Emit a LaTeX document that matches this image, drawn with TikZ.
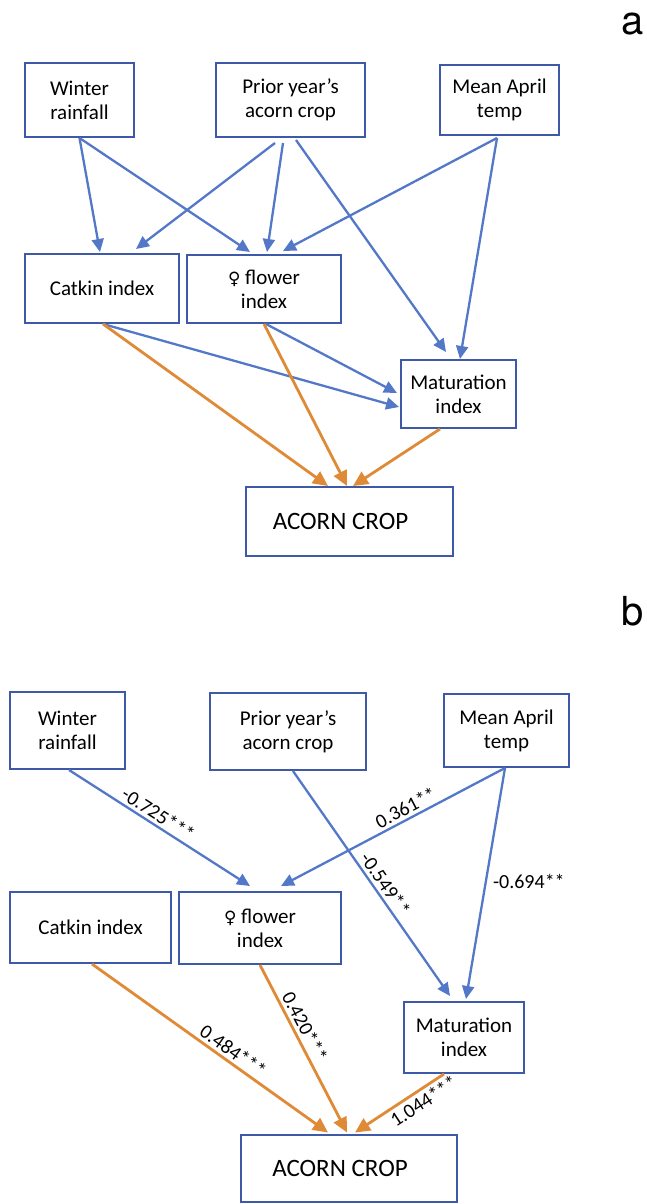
\documentclass[tikz,border=0pt]{standalone}
\usepackage{fontspec}
\setmainfont{Carlito}
\newfontfamily\labfont{TeX Gyre Heros}
\newfontfamily\symfont{DejaVu Sans}
\usetikzlibrary{arrows.meta}
\definecolor{boxblue}{RGB}{61,89,168}
\definecolor{arrblue}{RGB}{84,120,200}
\definecolor{arrorange}{RGB}{222,138,54}

\begin{document}
\begin{tikzpicture}[x=1pt,y=-1pt,
	box/.style={draw=boxblue,line width=2pt,inner sep=0pt,align=center,font=\fontsize{21}{24}\selectfont},
	blu/.style={draw=arrblue,line width=2.3pt,-{Triangle[length=13pt,width=12pt]}},
	orng/.style={draw=arrorange,line width=2.8pt,-{Triangle[length=15pt,width=14pt]}},
	lab/.style={font=\fontsize{20}{20}\selectfont,text=black,inner sep=3pt}]
	\useasboundingbox (0,0) rectangle (646,1204);

	\node[font=\labfont\fontsize{40}{40}\selectfont] (la) at (633,24) {a};
	\node[box,minimum width=109pt,minimum height=74pt] (wa) at (79.5,100) {Winter\\rainfall};
	\node[box,minimum width=149pt,minimum height=74pt] (pa) at (290.5,100) {Prior year’s\\acorn crop};
	\node[box,minimum width=119pt,minimum height=70pt] (mea) at (499.5,100) {Mean April\\temp};
	\node[box,minimum width=154pt,minimum height=69pt] (ca) at (102,288.5) {Catkin index};
	\node[box,minimum width=154pt,minimum height=68pt] (fa) at (264,289) {{\symfont\fontsize{17}{20}\selectfont ♀} flower\\index};
	\node[box,minimum width=115pt,minimum height=68pt] (ma) at (458.5,394) {Maturation\\index};
	\node[box,minimum width=207pt,minimum height=69pt,font=\fontsize{25}{28}\selectfont] (aa) at (349.5,521.5) {ACORN CROP\hspace*{18pt}};

	\draw[blu] (wa.south) -- ([xshift=-2pt,yshift=1pt]ca.north);
	\draw[blu] (wa.south) -- ([xshift=-14pt,yshift=2pt]fa.north);
	\draw[blu] ([xshift=-15.5pt,yshift=-5pt]pa.south) -- ([xshift=34pt,yshift=4pt]ca.north);
	\draw[blu] ([xshift=-7.5pt,yshift=-5pt]pa.south) -- ([xshift=3pt,yshift=2pt]fa.north);
	\draw[blu] ([xshift=5.5pt,yshift=-2pt]pa.south) -- ([xshift=-12.5pt,yshift=7pt]ma.north);
	\draw[blu] ([xshift=-2.5pt,yshift=-2pt]mea.south) -- ([xshift=19pt,yshift=3pt]fa.north);
	\draw[blu] ([xshift=-2.5pt,yshift=-2pt]mea.south) -- ([xshift=1.5pt]ma.north);
	\draw[blu] ([xshift=1pt]ca.south) -- ([xshift=-1pt,yshift=-13pt]ma.west);
	\draw[blu] ([xshift=2pt]fa.south) -- ([xshift=-3pt,yshift=1pt]ma.west);
	\draw[orng] ([xshift=1pt]ca.south) -- ([xshift=-21.5pt]aa.north);
	\draw[orng] (fa.south) -- ([xshift=-2.5pt]aa.north);
	\draw[orng] ([xshift=-18.5pt]ma.south) -- ([xshift=3.5pt]aa.north);

	\node[font=\labfont\fontsize{40}{40}\selectfont] (lb) at (633,611) {b};
	\node[box,minimum width=115pt,minimum height=77pt] (wb) at (67.5,730.5) {Winter\\rainfall};
	\node[box,minimum width=156pt,minimum height=77pt] (pb) at (288,731.5) {Prior year’s\\acorn crop};
	\node[box,minimum width=125pt,minimum height=73pt] (meb) at (506.5,730.5) {Mean April\\temp};
	\node[box,minimum width=161pt,minimum height=71pt] (cb) at (90.5,927.5) {Catkin index};
	\node[box,minimum width=162pt,minimum height=72pt] (fb) at (260,928) {{\symfont\fontsize{17}{20}\selectfont ♀} flower\\index};
	\node[box,minimum width=120pt,minimum height=71pt] (mb) at (464,1037.5) {Maturation\\index};
	\node[box,minimum width=216pt,minimum height=67pt,font=\fontsize{25}{28}\selectfont] (ab) at (349,1168) {ACORN CROP\hspace*{18pt}};

	\draw[blu] ([xshift=1.5pt]wb.south) -- ([xshift=-10pt,yshift=5pt]fb.north) node[lab,sloped,above,pos=0.46] {-0.725***};
	\draw[blu] ([xshift=5pt]pb.south) -- ([xshift=-14pt,yshift=5pt]mb.north) node[lab,sloped,above,pos=0.53] {-0.549**};
	\draw[blu] ([xshift=-1.5pt]meb.south) -- ([xshift=21pt,yshift=5pt]fb.north) node[lab,sloped,above,pos=0.42] {0.361**};
	\draw[blu] ([xshift=-1.5pt]meb.south) -- ([xshift=2pt,yshift=2pt]mb.north) node[lab,right=3pt,pos=0.49] {-0.694**};
	\draw[orng] ([xshift=1.5pt]cb.south) -- ([xshift=-21pt,yshift=1pt]ab.north) node[lab,sloped,above,pos=0.57] {0.484***};
	\draw[orng] (fb.south) -- ([xshift=-2pt,yshift=1pt]ab.north) node[lab,sloped,above,pos=0.4] {0.420***};
	\draw[orng] ([xshift=-20pt]mb.south) -- ([xshift=6pt,yshift=1pt]ab.north) node[lab,sloped,below,pos=0.3] {1.044***};
\end{tikzpicture}
\end{document}
